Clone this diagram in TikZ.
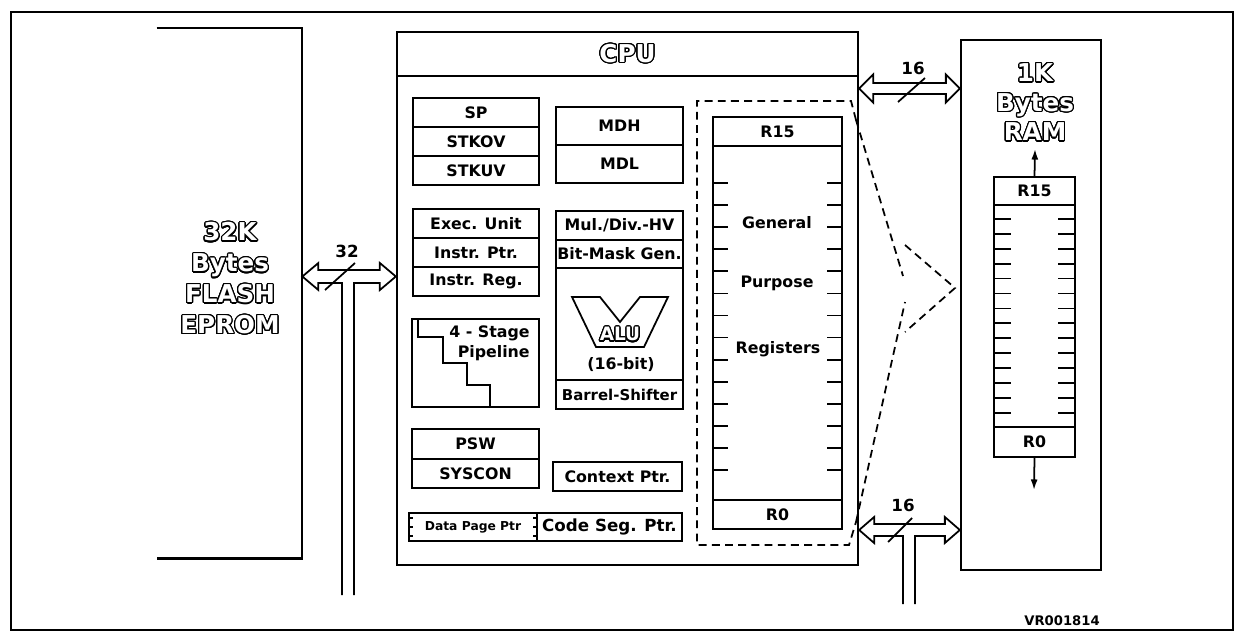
\documentclass[tikz,border=0pt]{standalone}
\usepackage{fontspec}
\setmainfont{DejaVu Sans}
\usepackage{contour}
\usetikzlibrary{arrows.meta, positioning, fit, calc}
\contourlength{0.7pt}
\contournumber{24}
\newcommand{\hollow}[1]{\contour{black}{#1}}
\tikzset{
  frame/.style={draw, line width=1.1pt},
  heavy/.style={draw, line width=1.3pt, inner sep=0pt},
  cell/.style={draw, line width=1pt, inner sep=0pt},
  txt/.style={inner sep=0pt, font=\bfseries\fontsize{9}{11}\selectfont},
  big/.style={inner sep=0pt, text=white, align=center,
              font=\bfseries\fontsize{14}{17.6}\selectfont},
  tick/.style={line width=1pt},
  bus/.style={line width=1pt, line join=miter},
  slash/.style={line width=1pt},
  window/.style={line width=1pt, dash pattern=on 4.5pt off 3pt},
  regflow/.style={-{Latex[length=6pt, width=4pt]}, line width=1pt},
}
\begin{document}
\begin{tikzpicture}[x=0.02cm, y=-0.02cm]
  \useasboundingbox (0,0) rectangle (1236,642);
  \draw[frame] (11,12) rectangle (1233,630);

  % ---- Flash ----
  \node[fit={(157,28)(302,558)}, inner sep=0pt] (flash) {};
  \draw[line width=1.3pt] (flash.north west) -- (flash.north east)
        -- (flash.south east) -- (flash.south west);
  \node[big] (flashlbl) at (230,279)
    {\hollow{32K}\\\hollow{Bytes}\\\hollow{FLASH}\\\hollow{EPROM}};

  % ---- CPU ----
  \node[heavy, fit={(397,32)(858,565)}] (cpu) {};
  \node[heavy, fit={(397,32)(858,76)}, label={[big]center:\hollow{CPU}}] (cputitle) {};

  % left column
  \node[cell, fit={(413,98)(539,127)}, label={[txt]center:SP}] (sp) {};
  \node[cell, fit={(413,127)(539,156)}, label={[txt]center:STKOV}] (stkov) {};
  \node[cell, fit={(413,156)(539,185)}, label={[txt]center:STKUV}] (stkuv) {};
  \node[cell, fit={(413,209)(539,238)}, label={[txt]center:Exec. Unit}] (exec) {};
  \node[cell, fit={(413,238)(539,267)}, label={[txt]center:Instr. Ptr.}] (iptr) {};
  \node[cell, fit={(413,267)(539,296)}, label={[txt]center:Instr. Reg.}] (ireg) {};
  \node[cell, fit={(412,319)(539,407)}] (pipe) {};
  \draw[tick] (418,319) |- (443,337) |- (467,363) |- (490,385) -- (490,407);
  \node[txt, align=right, anchor=east, font=\bfseries\fontsize{9}{11.3}\selectfont]
    (pipelbl) at (530,343) {4 - Stage\\Pipeline};
  \node[cell, fit={(412,429)(539,459)}, label={[txt]center:PSW}] (psw) {};
  \node[cell, fit={(412,459)(539,488)}, label={[txt]center:SYSCON}] (syscon) {};
  \node[cell, fit={(409,513)(537,541)},
        label={[txt, font=\bfseries\fontsize{7}{8}\selectfont]center:Data Page Ptr}] (dpp) {};
  \foreach \ty in {518,527,536} {
    \draw[line width=0.7pt] (409,\ty) -- ++(4,0) (537,\ty) -- ++(-4,0);
  }
  \node[cell, fit={(537,513)(682,541)},
        label={[txt, font=\bfseries\fontsize{9.5}{11}\selectfont]center:Code Seg. Ptr.}] (csp) {};

  % middle column
  \node[cell, fit={(556,107)(683,145)}, label={[txt]center:MDH}] (mdh) {};
  \node[cell, fit={(556,145)(683,183)}, label={[txt]center:MDL}] (mdl) {};
  \node[cell, fit={(556,211)(683,240)}, label={[txt]center:Mul./Div.-HV}] (muldiv) {};
  \node[cell, fit={(556,240)(683,268)}, label={[txt]center:Bit-Mask Gen.}] (bitmask) {};
  \node[cell, fit={(556,268)(683,380)}] (alu) {};
  \draw[tick] (572,297) -- (600,297) -- (620,322) -- (640,297) -- (668,297)
        -- (644,347) -- (596,347) -- cycle;
  \node[txt, text=white, font=\bfseries\fontsize{10.5}{12}\selectfont] (alulbl) at (620,335) {\hollow{ALU}};
  \node[txt] (alubits) at (621,365) {(16-bit)};
  \node[cell, fit={(556,380)(683,409)},
        label={[txt, font=\bfseries\fontsize{8.5}{10}\selectfont]center:Barrel-Shifter}] (barrel) {};
  \node[cell, fit={(553,462)(682,491)}, label={[txt]center:Context Ptr.}] (ctx) {};

  % register window
  \draw[window] (856,120) -- (851,101) -- (697,101) -- (697,545) -- (849,545) -- (856,522);
  \node[cell, fit={(713,117)(842,146)}, label={[txt]center:R15}] (gr15) {};
  \node[cell, fit={(713,146)(842,500)}] (gbody) {};
  \node[cell, fit={(713,500)(842,529)}, label={[txt]center:R0}] (gr0) {};
  \foreach \k in {0,...,13} {
    \draw[tick] (713,{183+22.08*\k}) -- ++(15,0) (842,{183+22.08*\k}) -- ++(-15,0);
  }
  \node[txt] (gen) at (777,223) {General};
  \node[txt] (purp) at (777,283) {Purpose};
  \node[txt] (regs) at (778,349) {Registers};

  % ---- RAM ----
  \node[heavy, fit={(961,40)(1101,570)}] (ram) {};
  \node[big, font=\bfseries\fontsize{14}{16.8}\selectfont] (ramlbl) at (1035,103)
    {\hollow{1K}\\\hollow{Bytes}\\\hollow{RAM}};
  \node[cell, fit={(994,177)(1075,205)}, label={[txt]center:R15}] (mr15) {};
  \node[cell, fit={(994,205)(1075,427)}] (mbody) {};
  \node[cell, fit={(994,427)(1075,457)}, label={[txt]center:R0}] (mr0) {};
  \foreach \k in {0,...,13} {
    \draw[tick] (994,{219+14.9*\k}) -- ++(17,0) (1075,{219+14.9*\k}) -- ++(-17,0);
  }
  \coordinate (upend) at (1035,149);
  \coordinate (downend) at (1034,490);
  \draw[regflow] (mr15.north) -- (upend);
  \draw[regflow] (mr0.south) -- (downend);

  % window projection
  \coordinate (wintop) at (856,120);
  \coordinate (winbot) at (856,522);
  \draw[window] (wintop) -- (903,276);
  \draw[window] (winbot) -- (905,302);
  \draw[window] (905,245) -- (955,288) -- (905,332);

  % ---- Buses ----
  \coordinate (b32a) at (flash.east |- 0,276.5);
  \coordinate (b32b) at (cpu.west |- 0,276.5);
  \draw[bus] (342,595) |- ($(b32a)+(16,6.5)$) -- ++(0,7) -- (b32a) -- ++(16,-13.5)
        -- ++(0,7) -- ($(b32b)+(-16,-6.5)$) -- ++(0,-7) -- (b32b) -- ++(-16,13.5)
        -- ++(0,-7) -| (354,595);
  \draw[slash] (325,290) -- (355,263);
  \node[txt, font=\bfseries\fontsize{9.5}{11}\selectfont] (w32) at (347,251) {32};

  \coordinate (t16a) at (cpu.east |- 0,88.5);
  \coordinate (t16b) at (ram.west |- 0,88.5);
  \draw[bus] (t16a) -- ++(14,-14) -- ++(0,8.5) -- ($(t16b)+(-14,-5.5)$) -- ++(0,-8.5)
        -- (t16b) -- ++(-14,14) -- ++(0,-8.5) -- ($(t16a)+(14,5.5)$) -- ++(0,8.5) -- cycle;
  \draw[slash] (898,102) -- (925,78);
  \node[txt, font=\bfseries\fontsize{9.5}{11}\selectfont] (wt16) at (913,68) {16};

  \coordinate (b16a) at (cpu.east |- 0,530);
  \coordinate (b16b) at (ram.west |- 0,530);
  \draw[bus] (903,604) |- ($(b16a)+(15,6)$) -- ++(0,7) -- (b16a) -- ++(15,-13)
        -- ++(0,7) -- ($(b16b)+(-15,-6)$) -- ++(0,-7) -- (b16b) -- ++(-15,13)
        -- ++(0,-7) -| (915,604);
  \draw[slash] (888,542) -- (912,518);
  \node[txt, font=\bfseries\fontsize{9.5}{11}\selectfont] (wb16) at (903,505) {16};

  \node[txt, font=\bfseries\fontsize{7.5}{9}\selectfont] (fignum) at (1062,621) {VR001814};
\end{tikzpicture}
\end{document}
